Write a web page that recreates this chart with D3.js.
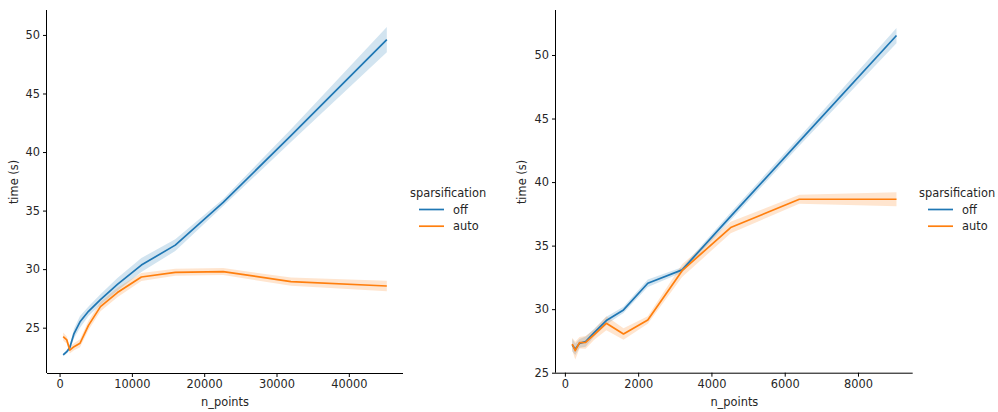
<!DOCTYPE html>
<html>
<head>
<meta charset="utf-8">
<script src="https://cdn.jsdelivr.net/npm/d3@7"></script>
<style>
  html, body { margin: 0; padding: 0; background: #fff; }
  svg { display: block; font-family: "DejaVu Sans", sans-serif; }
</style>
</head>
<body>
<svg id="chart" width="998" height="412"></svg>
<script>
// ---------- data ----------
const seriesNames = ["off", "auto"];
const legendTitle = "sparsification";
const xLabel = "n_points";
const yLabel = "time (s)";

// Left panel
const leftX = [500, 1000, 1414, 2000, 2828, 4000, 5657, 8000, 11314, 16000, 22627, 32000, 45255];
const leftOff      = [22.67, 22.95, 23.3, 24.5, 25.5, 26.4, 27.4, 28.7, 30.35, 32.05, 35.7, 41.4, 49.6];
const leftOffErr   = [0.1, 0.15, 0.2, 0.4, 0.5, 0.4, 0.45, 0.55, 0.6, 0.5, 0.3, 0.55, 1.07];
const leftAuto     = [24.23, 23.95, 23.09, 23.38, 23.67, 25.2, 26.8, 28.0, 29.33, 29.73, 29.79, 28.93, 28.56];
const leftAutoErr  = [0.35, 0.3, 0.3, 0.3, 0.35, 0.4, 0.4, 0.4, 0.35, 0.3, 0.3, 0.35, 0.45];
const leftXTicks = [0, 10000, 20000, 30000, 40000];
const leftYTicks = [25, 30, 35, 40, 45, 50];

// Right panel
const rightX = [200, 283, 400, 566, 800, 1131, 1600, 2263, 3200, 4525, 6400, 9051];
const rightOff     = [27.18, 26.84, 27.31, 27.44, 28.15, 29.1, 29.94, 32.04, 33.09, 37.3, 43.2, 51.53];
const rightOffErr  = [0.5, 0.45, 0.35, 0.4, 0.3, 0.3, 0.25, 0.3, 0.2, 0.3, 0.35, 0.6];
const rightAuto    = [27.26, 26.73, 27.36, 27.39, 27.99, 28.89, 28.05, 29.15, 33.03, 36.42, 38.65, 38.65];
const rightAutoErr = [0.5, 0.7, 0.45, 0.5, 0.4, 0.55, 0.45, 0.3, 0.5, 0.45, 0.35, 0.55];
const rightXTicks = [0, 2000, 4000, 6000, 8000];
const rightYTicks = [25, 30, 35, 40, 45, 50];

const colors = ["#1f77b4", "#ff7f0e"];

// ---------- drawing ----------
const svg = d3.select("#chart");
const FS = 11.4;
const textColor = "#262626";

function drawPanel(opts) {
  const { left, right, top, bottom, xs, series, errs, xTicks, yTicks, yDomain, ylabelX, legendX } = opts;
  const xMin = d3.min(xs), xMax = d3.max(xs);
  const pad = (xMax - xMin) * 0.05;
  const x = d3.scaleLinear().domain([xMin - pad, xMax + pad]).range([left, right]);
  const y = d3.scaleLinear().domain(yDomain).range([bottom, top]);

  const g = svg.append("g");

  // bands
  series.forEach((vals, si) => {
    const pts = xs.map((xv, i) => ({ x: xv, lo: vals[i] - errs[si][i], hi: vals[i] + errs[si][i] }));
    g.append("path")
      .datum(pts)
      .attr("fill", colors[si])
      .attr("fill-opacity", 0.2)
      .attr("stroke", "none")
      .attr("d", d3.area().x(d => x(d.x)).y0(d => y(d.lo)).y1(d => y(d.hi)));
  });
  // lines
  series.forEach((vals, si) => {
    const pts = xs.map((xv, i) => ({ x: xv, y: vals[i] }));
    g.append("path")
      .datum(pts)
      .attr("fill", "none")
      .attr("stroke", colors[si])
      .attr("stroke-width", 1.7)
      .attr("stroke-linejoin", "round")
      .attr("d", d3.line().x(d => x(d.x)).y(d => y(d.y)));
  });

  // axes
  const xAxis = d3.axisBottom(x).tickValues(xTicks).tickSize(4).tickPadding(3).tickFormat(d3.format("d"));
  const yAxis = d3.axisLeft(y).tickValues(yTicks).tickSize(4).tickPadding(3).tickFormat(d3.format("d"));
  const gx = g.append("g").attr("transform", `translate(0,${bottom})`).call(xAxis);
  const gy = g.append("g").attr("transform", `translate(${left},0)`).call(yAxis);
  [gx, gy].forEach(ax => {
    ax.select(".domain").attr("stroke", "#000").attr("stroke-width", 1);
    ax.selectAll(".tick line").attr("stroke", "#000").attr("stroke-width", 1);
    ax.selectAll(".tick text").attr("fill", textColor).style("font-size", FS + "px")
      .style("font-family", "DejaVu Sans, sans-serif");
  });
  gx.select(".domain").attr("d", `M${left},0.5H${right}`);
  gy.select(".domain").attr("d", `M-0.5,${bottom}V${top}`);

  // labels
  g.append("text")
    .attr("x", (left + right) / 2).attr("y", 406)
    .attr("text-anchor", "middle").attr("fill", textColor).style("font-size", FS + "px")
    .text(xLabel);
  g.append("text")
    .attr("transform", `translate(${ylabelX},182) rotate(-90)`)
    .attr("text-anchor", "middle").attr("dominant-baseline", "central")
    .attr("fill", textColor).style("font-size", FS + "px")
    .text(yLabel);

  // legend
  const lg = g.append("g");
  lg.append("text")
    .attr("x", legendX).attr("y", 193).attr("dominant-baseline", "central")
    .attr("fill", textColor).style("font-size", FS + "px")
    .text(legendTitle);
  seriesNames.forEach((name, i) => {
    const yy = 209.5 + i * 16.7;
    lg.append("line")
      .attr("x1", legendX + 9).attr("x2", legendX + 34)
      .attr("y1", yy).attr("y2", yy)
      .attr("stroke", colors[i]).attr("stroke-width", 1.7);
    lg.append("text")
      .attr("x", legendX + 43).attr("y", yy).attr("dominant-baseline", "central")
      .attr("fill", textColor).style("font-size", FS + "px")
      .text(name);
  });
}

drawPanel({
  left: 47, right: 403, top: 10, bottom: 373,
  xs: leftX, series: [leftOff, leftAuto], errs: [leftOffErr, leftAutoErr],
  xTicks: leftXTicks, yTicks: leftYTicks, yDomain: [21.13, 52.13],
  ylabelX: 13.5, legendX: 410
});
drawPanel({
  left: 556, right: 912.7, top: 10, bottom: 372.7,
  xs: rightX, series: [rightOff, rightAuto], errs: [rightOffErr, rightAutoErr],
  xTicks: rightXTicks, yTicks: rightYTicks, yDomain: [25, 53.54],
  ylabelX: 521.7, legendX: 919
});
</script>
</body>
</html>
